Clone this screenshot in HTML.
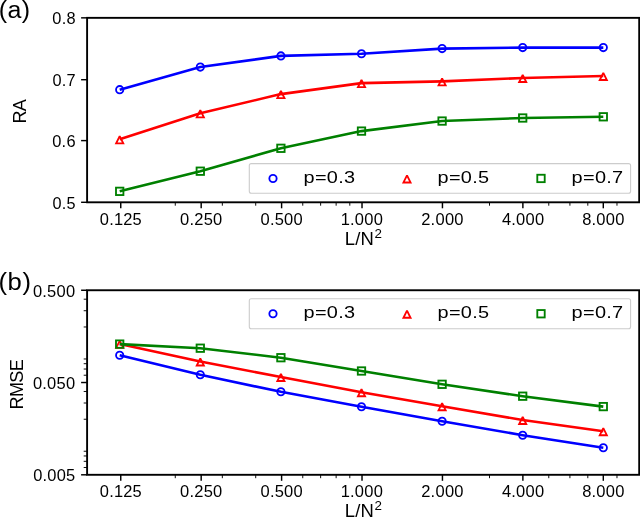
<!DOCTYPE html>
<html><head><meta charset="utf-8"><title>RA and RMSE vs L/N2</title>
<style>
html,body{margin:0;padding:0;background:#fff;}
body{width:640px;height:519px;overflow:hidden;}
svg{display:block;will-change:transform;font-family:"Liberation Sans", sans-serif;fill:#000;}
text{fill:#000;}
</style></head><body>
<svg width="640" height="519" viewBox="0 0 640 519">
<defs><clipPath id="clipA"><rect x="87.1" y="17.85" width="552.1" height="184.45000000000002"/></clipPath>
<clipPath id="clipB"><rect x="87.1" y="290.25" width="552.1" height="184.55"/></clipPath></defs>
<text transform="translate(0.20,17.90) scale(1.0476,1)" x="-1.48" y="0" font-size="23.88" textLength="29.97" lengthAdjust="spacing">(a)</text>
<line x1="81.10" y1="17.85" x2="87.10" y2="17.85" stroke="#000" stroke-width="1.45"/>
<text transform="translate(52.96,24.11) scale(1.0286,1)" x="-0.62" y="0" font-size="15.94" textLength="22.55" lengthAdjust="spacing">0.8</text>
<line x1="81.10" y1="79.70" x2="87.10" y2="79.70" stroke="#000" stroke-width="1.45"/>
<text transform="translate(53.22,85.96) scale(1.0244,1)" x="-0.62" y="0" font-size="15.94" textLength="22.49" lengthAdjust="spacing">0.7</text>
<line x1="81.10" y1="140.60" x2="87.10" y2="140.60" stroke="#000" stroke-width="1.45"/>
<text transform="translate(52.88,146.86) scale(1.0311,1)" x="-0.62" y="0" font-size="15.94" textLength="22.58" lengthAdjust="spacing">0.6</text>
<line x1="81.10" y1="202.30" x2="87.10" y2="202.30" stroke="#000" stroke-width="1.45"/>
<text transform="translate(53.24,208.56) scale(1.0196,1)" x="-0.62" y="0" font-size="15.94" textLength="22.43" lengthAdjust="spacing">0.5</text>
<line x1="175.28" y1="202.30" x2="175.28" y2="205.70" stroke="#000" stroke-width="0.95"/>
<line x1="222.33" y1="202.30" x2="222.33" y2="205.70" stroke="#000" stroke-width="0.95"/>
<line x1="255.71" y1="202.30" x2="255.71" y2="205.70" stroke="#000" stroke-width="0.95"/>
<line x1="302.75" y1="202.30" x2="302.75" y2="205.70" stroke="#000" stroke-width="0.95"/>
<line x1="320.64" y1="202.30" x2="320.64" y2="205.70" stroke="#000" stroke-width="0.95"/>
<line x1="336.13" y1="202.30" x2="336.13" y2="205.70" stroke="#000" stroke-width="0.95"/>
<line x1="349.80" y1="202.30" x2="349.80" y2="205.70" stroke="#000" stroke-width="0.95"/>
<line x1="489.50" y1="202.30" x2="489.50" y2="205.70" stroke="#000" stroke-width="0.95"/>
<line x1="548.77" y1="202.30" x2="548.77" y2="205.70" stroke="#000" stroke-width="0.95"/>
<line x1="569.92" y1="202.30" x2="569.92" y2="205.70" stroke="#000" stroke-width="0.95"/>
<line x1="587.81" y1="202.30" x2="587.81" y2="205.70" stroke="#000" stroke-width="0.95"/>
<line x1="616.97" y1="202.30" x2="616.97" y2="205.70" stroke="#000" stroke-width="0.95"/>
<line x1="120.75" y1="202.30" x2="120.75" y2="208.30" stroke="#000" stroke-width="1.45"/>
<text transform="translate(100.43,224.90) scale(1.0316,1)" x="-0.62" y="0" font-size="15.94" textLength="40.69" lengthAdjust="spacing">0.125</text>
<line x1="201.18" y1="202.30" x2="201.18" y2="208.30" stroke="#000" stroke-width="1.45"/>
<text transform="translate(180.70,224.90) scale(1.0358,1)" x="-0.62" y="0" font-size="15.94" textLength="40.79" lengthAdjust="spacing">0.250</text>
<line x1="281.60" y1="202.30" x2="281.60" y2="208.30" stroke="#000" stroke-width="1.45"/>
<text transform="translate(261.12,224.90) scale(1.0358,1)" x="-0.62" y="0" font-size="15.94" textLength="40.79" lengthAdjust="spacing">0.500</text>
<line x1="362.02" y1="202.30" x2="362.02" y2="208.30" stroke="#000" stroke-width="1.45"/>
<text transform="translate(341.88,224.90) scale(1.0352,1)" x="-1.21" y="0" font-size="15.94" textLength="40.76" lengthAdjust="spacing">1.000</text>
<line x1="442.45" y1="202.30" x2="442.45" y2="208.30" stroke="#000" stroke-width="1.45"/>
<text transform="translate(422.03,224.90) scale(1.0370,1)" x="-0.80" y="0" font-size="15.94" textLength="40.81" lengthAdjust="spacing">2.000</text>
<line x1="522.88" y1="202.30" x2="522.88" y2="208.30" stroke="#000" stroke-width="1.45"/>
<text transform="translate(502.27,224.90) scale(1.0355,1)" x="-0.37" y="0" font-size="15.94" textLength="40.79" lengthAdjust="spacing">4.000</text>
<line x1="603.30" y1="202.30" x2="603.30" y2="208.30" stroke="#000" stroke-width="1.45"/>
<text transform="translate(582.84,224.90) scale(1.0365,1)" x="-0.69" y="0" font-size="15.94" textLength="40.80" lengthAdjust="spacing">8.000</text>
<text transform="translate(346.30,245.20) scale(1.0192,1)" x="-1.49" y="0" font-size="18.11" textLength="28.50" lengthAdjust="spacing">L/N</text>
<text x="374.49" y="238.40" font-size="13.39">2</text>
<g transform="translate(25.9,122.0) rotate(-90)"><text transform="translate(0.00,0.00) scale(0.9520,1)" x="-1.56" y="0" font-size="19.07" textLength="25.66" lengthAdjust="spacing">RA</text></g>
<g clip-path="url(#clipA)">
<path d="M119.70,89.70 L200.30,67.05 L280.90,55.90 L361.50,53.70 L442.10,48.60 L522.70,47.60 L603.30,47.60" fill="none" stroke="#0000ff" stroke-width="2.6" stroke-linejoin="round" stroke-linecap="butt"/>
<circle cx="119.70" cy="89.70" r="3.65" fill="none" stroke="#0000ff" stroke-width="1.85"/>
<circle cx="200.30" cy="67.05" r="3.65" fill="none" stroke="#0000ff" stroke-width="1.85"/>
<circle cx="280.90" cy="55.90" r="3.65" fill="none" stroke="#0000ff" stroke-width="1.85"/>
<circle cx="361.50" cy="53.70" r="3.65" fill="none" stroke="#0000ff" stroke-width="1.85"/>
<circle cx="442.10" cy="48.60" r="3.65" fill="none" stroke="#0000ff" stroke-width="1.85"/>
<circle cx="522.70" cy="47.60" r="3.65" fill="none" stroke="#0000ff" stroke-width="1.85"/>
<circle cx="603.30" cy="47.60" r="3.65" fill="none" stroke="#0000ff" stroke-width="1.85"/>
<path d="M119.70,139.30 L200.30,113.30 L280.90,94.10 L361.50,83.10 L442.10,81.40 L522.70,78.00 L603.30,76.00" fill="none" stroke="#ff0000" stroke-width="2.6" stroke-linejoin="round" stroke-linecap="butt"/>
<path d="M119.70,136.20 L116.15,143.30 L123.25,143.30 Z" fill="none" stroke="#ff0000" stroke-width="1.85" stroke-linejoin="miter" stroke-miterlimit="2.0"/>
<path d="M200.30,110.20 L196.75,117.30 L203.85,117.30 Z" fill="none" stroke="#ff0000" stroke-width="1.85" stroke-linejoin="miter" stroke-miterlimit="2.0"/>
<path d="M280.90,91.00 L277.35,98.10 L284.45,98.10 Z" fill="none" stroke="#ff0000" stroke-width="1.85" stroke-linejoin="miter" stroke-miterlimit="2.0"/>
<path d="M361.50,80.00 L357.95,87.10 L365.05,87.10 Z" fill="none" stroke="#ff0000" stroke-width="1.85" stroke-linejoin="miter" stroke-miterlimit="2.0"/>
<path d="M442.10,78.30 L438.55,85.40 L445.65,85.40 Z" fill="none" stroke="#ff0000" stroke-width="1.85" stroke-linejoin="miter" stroke-miterlimit="2.0"/>
<path d="M522.70,74.90 L519.15,82.00 L526.25,82.00 Z" fill="none" stroke="#ff0000" stroke-width="1.85" stroke-linejoin="miter" stroke-miterlimit="2.0"/>
<path d="M603.30,72.90 L599.75,80.00 L606.85,80.00 Z" fill="none" stroke="#ff0000" stroke-width="1.85" stroke-linejoin="miter" stroke-miterlimit="2.0"/>
<path d="M119.70,191.35 L200.30,171.20 L280.90,148.30 L361.50,131.10 L442.10,121.05 L522.70,118.00 L603.30,116.80" fill="none" stroke="#008000" stroke-width="2.6" stroke-linejoin="round" stroke-linecap="butt"/>
<rect x="116.00" y="187.65" width="7.40" height="7.40" fill="none" stroke="#008000" stroke-width="1.85"/>
<rect x="196.60" y="167.50" width="7.40" height="7.40" fill="none" stroke="#008000" stroke-width="1.85"/>
<rect x="277.20" y="144.60" width="7.40" height="7.40" fill="none" stroke="#008000" stroke-width="1.85"/>
<rect x="357.80" y="127.40" width="7.40" height="7.40" fill="none" stroke="#008000" stroke-width="1.85"/>
<rect x="438.40" y="117.35" width="7.40" height="7.40" fill="none" stroke="#008000" stroke-width="1.85"/>
<rect x="519.00" y="114.30" width="7.40" height="7.40" fill="none" stroke="#008000" stroke-width="1.85"/>
<rect x="599.60" y="113.10" width="7.40" height="7.40" fill="none" stroke="#008000" stroke-width="1.85"/>
</g>
<rect x="249.3" y="163.60" width="381.30" height="29.70" rx="2" ry="2" fill="#fff" fill-opacity="0.8" stroke="#cccccc" stroke-width="1.1"/>
<circle cx="273.00" cy="178.45" r="3.65" fill="none" stroke="#0000ff" stroke-width="1.85"/>
<text transform="translate(304.90,182.85) scale(1.2490,1)" x="-1.03" y="0" font-size="15.94" textLength="41.20" lengthAdjust="spacing">p=0.3</text>
<path d="M407.00,175.35 L403.45,182.45 L410.55,182.45 Z" fill="none" stroke="#ff0000" stroke-width="1.85" stroke-linejoin="miter" stroke-miterlimit="2.0"/>
<text transform="translate(438.90,182.85) scale(1.2481,1)" x="-1.03" y="0" font-size="15.94" textLength="41.20" lengthAdjust="spacing">p=0.5</text>
<rect x="537.30" y="174.75" width="7.40" height="7.40" fill="none" stroke="#008000" stroke-width="1.85"/>
<text transform="translate(572.90,182.85) scale(1.2521,1)" x="-1.03" y="0" font-size="15.94" textLength="41.20" lengthAdjust="spacing">p=0.7</text>
<rect x="87.10" y="17.85" width="552.10" height="184.45" fill="none" stroke="#000" stroke-width="1.9"/>
<text transform="translate(0.00,289.90) scale(1.0719,1)" x="-1.48" y="0" font-size="23.91" textLength="30.39" lengthAdjust="spacing">(b)</text>
<line x1="81.10" y1="290.25" x2="87.10" y2="290.25" stroke="#000" stroke-width="1.45"/>
<text transform="translate(33.54,296.71) scale(1.0358,1)" x="-0.62" y="0" font-size="15.94" textLength="40.79" lengthAdjust="spacing">0.500</text>
<line x1="81.10" y1="382.52" x2="87.10" y2="382.52" stroke="#000" stroke-width="1.45"/>
<text transform="translate(33.54,388.98) scale(1.0358,1)" x="-0.62" y="0" font-size="15.94" textLength="40.79" lengthAdjust="spacing">0.050</text>
<line x1="81.10" y1="474.80" x2="87.10" y2="474.80" stroke="#000" stroke-width="1.45"/>
<text transform="translate(33.86,481.26) scale(1.0316,1)" x="-0.62" y="0" font-size="15.94" textLength="40.69" lengthAdjust="spacing">0.005</text>
<line x1="83.70" y1="467.49" x2="87.10" y2="467.49" stroke="#000" stroke-width="0.95"/>
<line x1="83.70" y1="461.32" x2="87.10" y2="461.32" stroke="#000" stroke-width="0.95"/>
<line x1="83.70" y1="455.96" x2="87.10" y2="455.96" stroke="#000" stroke-width="0.95"/>
<line x1="83.70" y1="451.24" x2="87.10" y2="451.24" stroke="#000" stroke-width="0.95"/>
<line x1="83.70" y1="419.24" x2="87.10" y2="419.24" stroke="#000" stroke-width="0.95"/>
<line x1="83.70" y1="403.00" x2="87.10" y2="403.00" stroke="#000" stroke-width="0.95"/>
<line x1="83.70" y1="391.47" x2="87.10" y2="391.47" stroke="#000" stroke-width="0.95"/>
<line x1="83.70" y1="375.22" x2="87.10" y2="375.22" stroke="#000" stroke-width="0.95"/>
<line x1="83.70" y1="369.04" x2="87.10" y2="369.04" stroke="#000" stroke-width="0.95"/>
<line x1="83.70" y1="363.69" x2="87.10" y2="363.69" stroke="#000" stroke-width="0.95"/>
<line x1="83.70" y1="358.97" x2="87.10" y2="358.97" stroke="#000" stroke-width="0.95"/>
<line x1="83.70" y1="326.97" x2="87.10" y2="326.97" stroke="#000" stroke-width="0.95"/>
<line x1="83.70" y1="310.72" x2="87.10" y2="310.72" stroke="#000" stroke-width="0.95"/>
<line x1="83.70" y1="299.19" x2="87.10" y2="299.19" stroke="#000" stroke-width="0.95"/>
<line x1="175.28" y1="474.80" x2="175.28" y2="478.20" stroke="#000" stroke-width="0.95"/>
<line x1="222.33" y1="474.80" x2="222.33" y2="478.20" stroke="#000" stroke-width="0.95"/>
<line x1="255.71" y1="474.80" x2="255.71" y2="478.20" stroke="#000" stroke-width="0.95"/>
<line x1="302.75" y1="474.80" x2="302.75" y2="478.20" stroke="#000" stroke-width="0.95"/>
<line x1="320.64" y1="474.80" x2="320.64" y2="478.20" stroke="#000" stroke-width="0.95"/>
<line x1="336.13" y1="474.80" x2="336.13" y2="478.20" stroke="#000" stroke-width="0.95"/>
<line x1="349.80" y1="474.80" x2="349.80" y2="478.20" stroke="#000" stroke-width="0.95"/>
<line x1="489.50" y1="474.80" x2="489.50" y2="478.20" stroke="#000" stroke-width="0.95"/>
<line x1="548.77" y1="474.80" x2="548.77" y2="478.20" stroke="#000" stroke-width="0.95"/>
<line x1="569.92" y1="474.80" x2="569.92" y2="478.20" stroke="#000" stroke-width="0.95"/>
<line x1="587.81" y1="474.80" x2="587.81" y2="478.20" stroke="#000" stroke-width="0.95"/>
<line x1="616.97" y1="474.80" x2="616.97" y2="478.20" stroke="#000" stroke-width="0.95"/>
<line x1="120.75" y1="474.80" x2="120.75" y2="480.80" stroke="#000" stroke-width="1.45"/>
<text transform="translate(100.43,497.00) scale(1.0316,1)" x="-0.62" y="0" font-size="15.94" textLength="40.69" lengthAdjust="spacing">0.125</text>
<line x1="201.18" y1="474.80" x2="201.18" y2="480.80" stroke="#000" stroke-width="1.45"/>
<text transform="translate(180.70,497.00) scale(1.0358,1)" x="-0.62" y="0" font-size="15.94" textLength="40.79" lengthAdjust="spacing">0.250</text>
<line x1="281.60" y1="474.80" x2="281.60" y2="480.80" stroke="#000" stroke-width="1.45"/>
<text transform="translate(261.12,497.00) scale(1.0358,1)" x="-0.62" y="0" font-size="15.94" textLength="40.79" lengthAdjust="spacing">0.500</text>
<line x1="362.02" y1="474.80" x2="362.02" y2="480.80" stroke="#000" stroke-width="1.45"/>
<text transform="translate(341.88,497.00) scale(1.0352,1)" x="-1.21" y="0" font-size="15.94" textLength="40.76" lengthAdjust="spacing">1.000</text>
<line x1="442.45" y1="474.80" x2="442.45" y2="480.80" stroke="#000" stroke-width="1.45"/>
<text transform="translate(422.03,497.00) scale(1.0370,1)" x="-0.80" y="0" font-size="15.94" textLength="40.81" lengthAdjust="spacing">2.000</text>
<line x1="522.88" y1="474.80" x2="522.88" y2="480.80" stroke="#000" stroke-width="1.45"/>
<text transform="translate(502.27,497.00) scale(1.0355,1)" x="-0.37" y="0" font-size="15.94" textLength="40.79" lengthAdjust="spacing">4.000</text>
<line x1="603.30" y1="474.80" x2="603.30" y2="480.80" stroke="#000" stroke-width="1.45"/>
<text transform="translate(582.84,497.00) scale(1.0365,1)" x="-0.69" y="0" font-size="15.94" textLength="40.80" lengthAdjust="spacing">8.000</text>
<text transform="translate(346.30,517.20) scale(1.0192,1)" x="-1.49" y="0" font-size="18.11" textLength="28.50" lengthAdjust="spacing">L/N</text>
<text x="374.49" y="510.40" font-size="13.39">2</text>
<g transform="translate(23.0,408.0) rotate(-90)"><text transform="translate(0.00,0.00) scale(0.9436,1)" x="-1.57" y="0" font-size="19.13" textLength="53.17" lengthAdjust="spacing">RMSE</text></g>
<g clip-path="url(#clipB)">
<path d="M119.70,355.30 L200.30,374.80 L280.90,391.80 L361.50,406.70 L442.10,421.20 L522.70,435.20 L603.30,447.70" fill="none" stroke="#0000ff" stroke-width="2.6" stroke-linejoin="round" stroke-linecap="butt"/>
<circle cx="119.70" cy="355.30" r="3.65" fill="none" stroke="#0000ff" stroke-width="1.85"/>
<circle cx="200.30" cy="374.80" r="3.65" fill="none" stroke="#0000ff" stroke-width="1.85"/>
<circle cx="280.90" cy="391.80" r="3.65" fill="none" stroke="#0000ff" stroke-width="1.85"/>
<circle cx="361.50" cy="406.70" r="3.65" fill="none" stroke="#0000ff" stroke-width="1.85"/>
<circle cx="442.10" cy="421.20" r="3.65" fill="none" stroke="#0000ff" stroke-width="1.85"/>
<circle cx="522.70" cy="435.20" r="3.65" fill="none" stroke="#0000ff" stroke-width="1.85"/>
<circle cx="603.30" cy="447.70" r="3.65" fill="none" stroke="#0000ff" stroke-width="1.85"/>
<path d="M119.70,343.90 L200.30,361.50 L280.90,377.00 L361.50,392.20 L442.10,406.20 L522.70,420.00 L603.30,431.20" fill="none" stroke="#ff0000" stroke-width="2.6" stroke-linejoin="round" stroke-linecap="butt"/>
<path d="M119.70,340.80 L116.15,347.90 L123.25,347.90 Z" fill="none" stroke="#ff0000" stroke-width="1.85" stroke-linejoin="miter" stroke-miterlimit="2.0"/>
<path d="M200.30,358.40 L196.75,365.50 L203.85,365.50 Z" fill="none" stroke="#ff0000" stroke-width="1.85" stroke-linejoin="miter" stroke-miterlimit="2.0"/>
<path d="M280.90,373.90 L277.35,381.00 L284.45,381.00 Z" fill="none" stroke="#ff0000" stroke-width="1.85" stroke-linejoin="miter" stroke-miterlimit="2.0"/>
<path d="M361.50,389.10 L357.95,396.20 L365.05,396.20 Z" fill="none" stroke="#ff0000" stroke-width="1.85" stroke-linejoin="miter" stroke-miterlimit="2.0"/>
<path d="M442.10,403.10 L438.55,410.20 L445.65,410.20 Z" fill="none" stroke="#ff0000" stroke-width="1.85" stroke-linejoin="miter" stroke-miterlimit="2.0"/>
<path d="M522.70,416.90 L519.15,424.00 L526.25,424.00 Z" fill="none" stroke="#ff0000" stroke-width="1.85" stroke-linejoin="miter" stroke-miterlimit="2.0"/>
<path d="M603.30,428.10 L599.75,435.20 L606.85,435.20 Z" fill="none" stroke="#ff0000" stroke-width="1.85" stroke-linejoin="miter" stroke-miterlimit="2.0"/>
<path d="M119.70,344.10 L200.30,348.20 L280.90,357.70 L361.50,371.00 L442.10,384.30 L522.70,396.20 L603.30,406.60" fill="none" stroke="#008000" stroke-width="2.6" stroke-linejoin="round" stroke-linecap="butt"/>
<rect x="116.00" y="340.40" width="7.40" height="7.40" fill="none" stroke="#008000" stroke-width="1.85"/>
<rect x="196.60" y="344.50" width="7.40" height="7.40" fill="none" stroke="#008000" stroke-width="1.85"/>
<rect x="277.20" y="354.00" width="7.40" height="7.40" fill="none" stroke="#008000" stroke-width="1.85"/>
<rect x="357.80" y="367.30" width="7.40" height="7.40" fill="none" stroke="#008000" stroke-width="1.85"/>
<rect x="438.40" y="380.60" width="7.40" height="7.40" fill="none" stroke="#008000" stroke-width="1.85"/>
<rect x="519.00" y="392.50" width="7.40" height="7.40" fill="none" stroke="#008000" stroke-width="1.85"/>
<rect x="599.60" y="402.90" width="7.40" height="7.40" fill="none" stroke="#008000" stroke-width="1.85"/>
</g>
<rect x="249.3" y="298.75" width="381.30" height="30.00" rx="2" ry="2" fill="#fff" fill-opacity="0.8" stroke="#cccccc" stroke-width="1.1"/>
<circle cx="273.00" cy="313.75" r="3.65" fill="none" stroke="#0000ff" stroke-width="1.85"/>
<text transform="translate(304.90,318.15) scale(1.2490,1)" x="-1.03" y="0" font-size="15.94" textLength="41.20" lengthAdjust="spacing">p=0.3</text>
<path d="M407.00,310.65 L403.45,317.75 L410.55,317.75 Z" fill="none" stroke="#ff0000" stroke-width="1.85" stroke-linejoin="miter" stroke-miterlimit="2.0"/>
<text transform="translate(438.90,318.15) scale(1.2481,1)" x="-1.03" y="0" font-size="15.94" textLength="41.20" lengthAdjust="spacing">p=0.5</text>
<rect x="537.30" y="310.05" width="7.40" height="7.40" fill="none" stroke="#008000" stroke-width="1.85"/>
<text transform="translate(572.90,318.15) scale(1.2521,1)" x="-1.03" y="0" font-size="15.94" textLength="41.20" lengthAdjust="spacing">p=0.7</text>
<rect x="87.10" y="290.25" width="552.10" height="184.55" fill="none" stroke="#000" stroke-width="1.9"/>
</svg>
</body></html>
